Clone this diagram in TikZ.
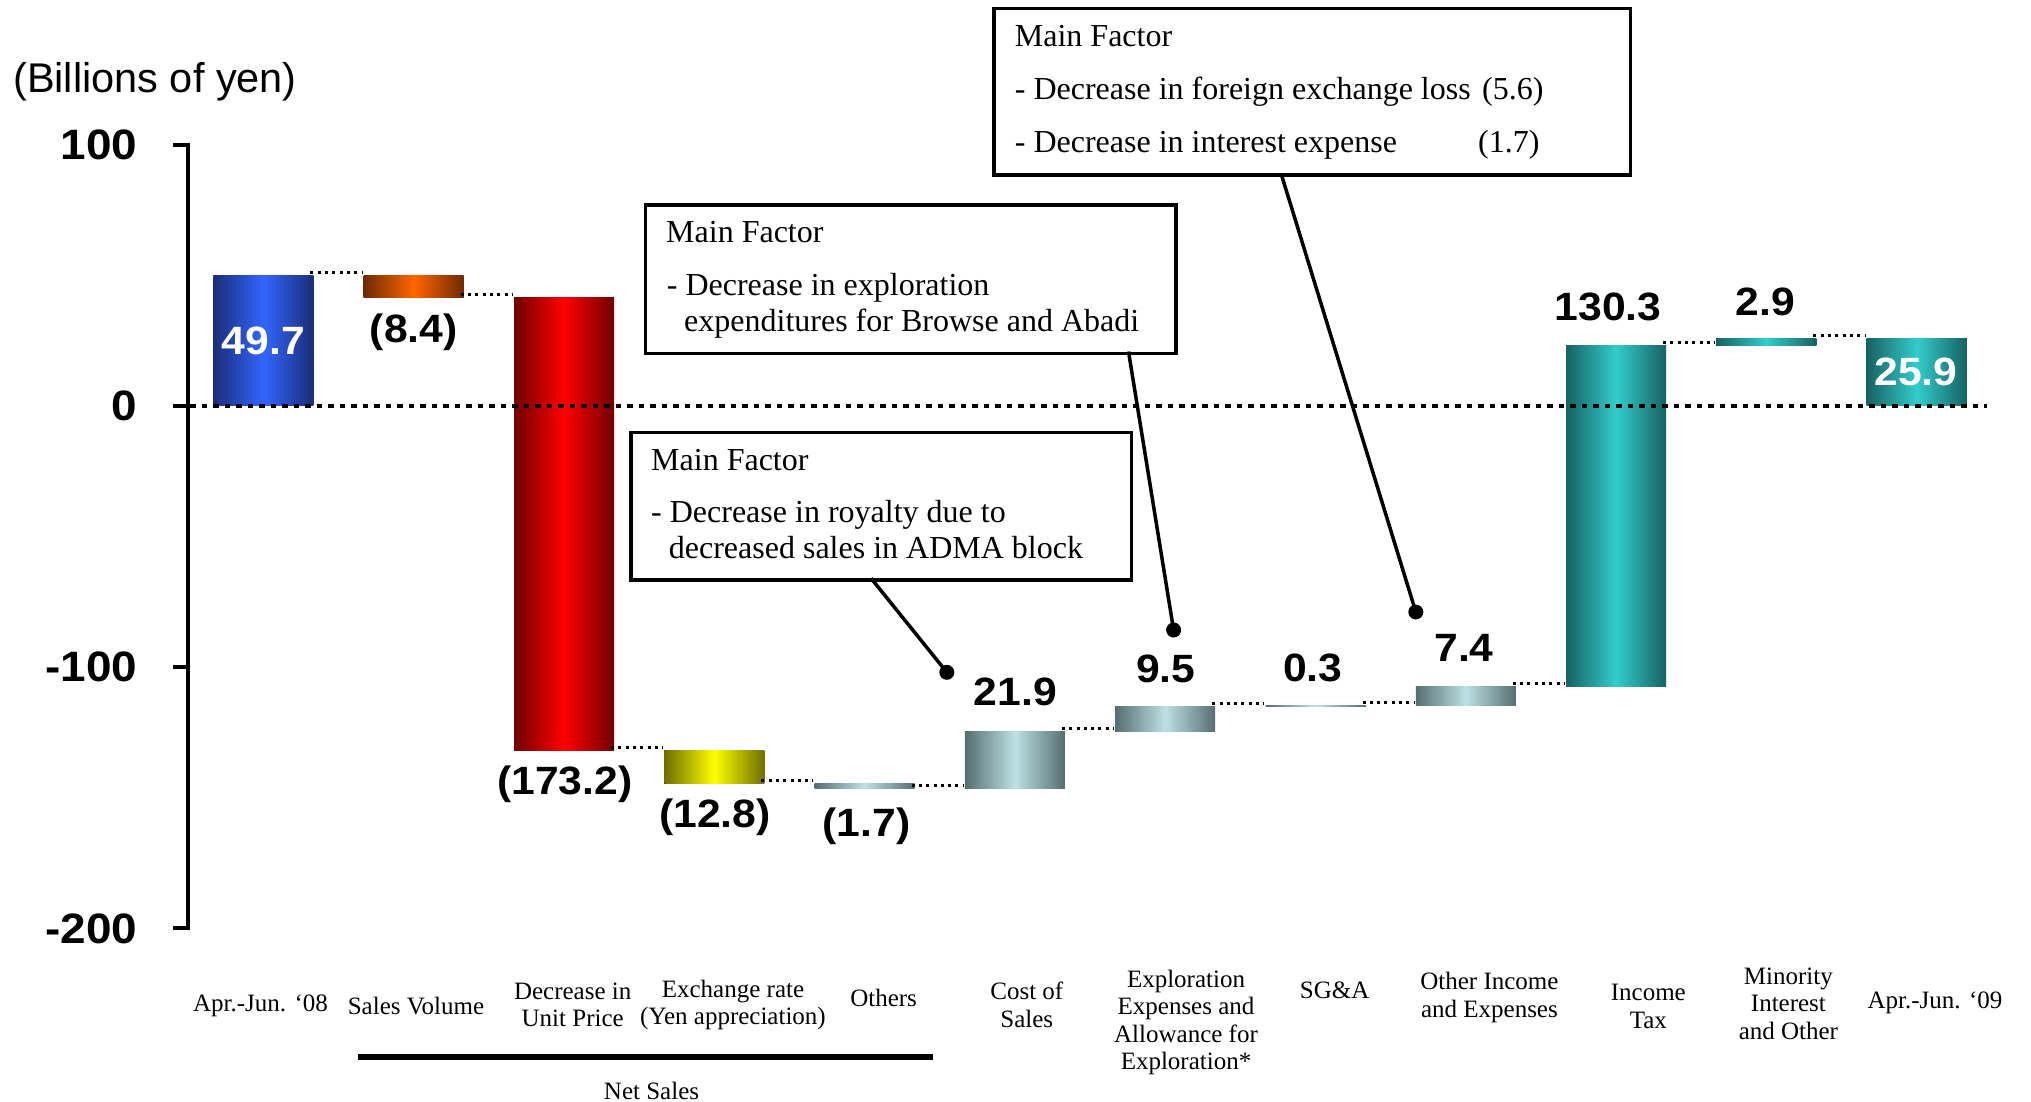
\documentclass[tikz,border=0pt]{standalone}
\usepackage{fontspec}
\setmainfont{Liberation Serif}
\newfontfamily\numfont[FakeStretch=1.08]{Liberation Sans}
\newfontfamily\plainsans{Liberation Sans}
\newfontfamily\catfont{Liberation Serif}
\definecolor{blueD}{HTML}{1A2E78}
\definecolor{blueM}{HTML}{3366FF}
\definecolor{orangeD}{HTML}{6E2A00}
\definecolor{orangeM}{HTML}{FF6600}
\definecolor{redD}{HTML}{700000}
\definecolor{redM}{HTML}{FF0000}
\definecolor{yellowD}{HTML}{6E6E00}
\definecolor{yellowM}{HTML}{FFFF00}
\definecolor{grayD}{HTML}{566E70}
\definecolor{grayM}{HTML}{BCE1E4}
\definecolor{tealD}{HTML}{176262}
\definecolor{tealM}{HTML}{33CCCC}
\newcommand\wfbar[5]{\fill[left color=#4, right color=#4, middle color=#5]
  ({213.4+150.3*#1},{405.8-2.613*(#2)}) rectangle ({313.4+150.3*#1},{405.8-2.613*(#3)});}
\begin{document}
\begin{tikzpicture}[x=1pt,y=-1pt,
  conn/.style={line width=3pt, dash pattern=on 3pt off 4.3pt},
  zeroline/.style={line width=3.5pt, dash pattern=on 5.5pt off 6pt},
  axisline/.style={line width=4pt},
  box/.style={draw, line width=3.5pt, fill=white, inner sep=0pt, anchor=north west},
  boxtxt/.style={inner sep=0pt, anchor=base west, font=\fontsize{32}{38}\selectfont},
  val/.style={inner sep=0pt, font=\numfont\bfseries\fontsize{39.5}{46}\selectfont},
  ylab/.style={inner sep=0pt, anchor=east, font=\numfont\bfseries\fontsize{42.5}{50}\selectfont},
  cat/.style={inner sep=0pt, align=center, font=\catfont\fontsize{25}{27.5}\selectfont},
  lead/.style={line width=3.5pt},
  dotn/.style={circle, fill=black, inner sep=0pt, minimum size=15pt}]
\useasboundingbox[fill=white] (0,0) rectangle (2031,1101);

% title
\node[inner sep=0pt, anchor=base west, font=\plainsans\fontsize{41.5}{50}\selectfont] (unit) at (13,92) {(Billions of yen)};

% axis
\draw[axisline] (187.5,{405.8-2.613*100}) -- (187.5,{405.8-2.613*(-200)});
\foreach \v/\t in {100/100,0/0,-100/-100,-200/-200}{
  \draw[axisline] (173,{405.8-2.613*(\v)}) -- (189.5,{405.8-2.613*(\v)});
  \node[ylab] (yl\t) at (137.5,{405.8-2.613*(\v)}) {\t};
}

% bars
\wfbar{0}{0}{49.7}{blueD}{blueM}
\wfbar{1}{49.7}{41.3}{orangeD}{orangeM}
\wfbar{2}{41.3}{-131.9}{redD}{redM}
\wfbar{3}{-131.9}{-144.7}{yellowD}{yellowM}
\wfbar{4}{-144.7}{-146.4}{grayD}{grayM}
\wfbar{5}{-146.4}{-124.5}{grayD}{grayM}
\wfbar{6}{-124.5}{-115}{grayD}{grayM}
\wfbar{7}{-115}{-114.7}{grayD}{grayM}
\wfbar{8}{-114.7}{-107.3}{grayD}{grayM}
\wfbar{9}{-107.3}{23}{tealD}{tealM}
\wfbar{10}{23}{25.9}{tealD}{tealM}
\wfbar{11}{0}{25.9}{tealD}{tealM}

% connectors between bars
\foreach \i/\L in {0/49.7,1/41.3,2/-131.9,3/-144.7,4/-146.4,5/-124.5,6/-115,7/-114.7,8/-107.3,9/23,10/25.9}{
  \draw[conn] ({310.4+150.3*\i},{402.8-2.613*(\L)}) -- ({361.7+150.3*\i},{402.8-2.613*(\L)});
}

% zero line
\draw[zeroline] (190,405.8) -- (1987,405.8);

% value labels
\node[val, text=white] (v0) at (263.4,341) {49.7};
\node[val] (v1) at (413.7,332) {(8.4)};
\node[val] (v2) at (564.7,784) {(173.2)};
\node[val] (v3) at (715,817.3) {(12.8)};
\node[val] (v4) at (866.6,826.4) {(1.7)};
\node[val] (v5) at (1015.5,691.7) {21.9};
\node[val] (v6) at (1165.8,668.4) {9.5};
\node[val] (v7) at (1312.8,668.4) {0.3};
\node[val] (v8) at (1464,648) {7.4};
\node[val] (v9) at (1608,307) {130.3};
\node[val] (v10) at (1765.4,301.7) {2.9};
\node[val, text=white] (v11) at (1915.8,371.7) {25.9};

% category labels
\node[cat] (c0) at (260.5,1006) {Apr.-Jun. ‘08};
\node[cat] (c1) at (416,1006) {Sales Volume};
\node[cat] (c2) at (572.7,1005) {Decrease in\\Unit Price};
\node[cat] (c3) at (733,1005) {Exchange rate\\(Yen appreciation)};
\node[cat] (c4) at (883.6,998) {Others};
\node[cat] (c5) at (1026.8,1005) {Cost of\\Sales};
\node[cat] (c6) at (1186,1022.5) {Exploration\\Expenses and\\Allowance for\\Exploration*};
\node[cat] (c7) at (1334.7,990) {SG\&A};
\node[cat] (c8) at (1489.4,997.7) {Other Income\\and Expenses};
\node[cat] (c9) at (1648.3,1006.3) {Income\\Tax};
\node[cat] (c10) at (1788.4,1003.8) {Minority\\Interest\\and Other};
\node[cat] (c11) at (1935,1003.3) {Apr.-Jun. ‘09};

% net sales bracket
\coordinate (nsl) at (357.6,1056.7);
\coordinate (nsr) at (933.3,1056.7);
\draw[line width=6pt] (nsl) -- (nsr);
\node[cat] (ns) at (651.5,1091) {Net Sales};

% callout boxes
\node[box, minimum width=636.1pt, minimum height=166.6pt] (b1) at (992.4,6.7) {};
\node[boxtxt] (b1t1) at (1014.7,46) {Main Factor};
\node[boxtxt] (b1t2) at (1014.7,99) {- Decrease in foreign exchange loss};
\node[boxtxt] (b1n2) at (1482,99) {(5.6)};
\node[boxtxt] (b1t3) at (1014.7,152) {- Decrease in interest expense};
\node[boxtxt] (b1n3) at (1478,152) {(1.7)};

\node[box, minimum width=530.2pt, minimum height=148.1pt] (b2) at (643.8,203.4) {};
\node[boxtxt] (b2t1) at (666,242.6) {Main Factor};
\node[boxtxt] (b2t2) at (666.7,295.5) {- Decrease in exploration};
\node[boxtxt] (b2t3) at (684,331) {expenditures for Browse and Abadi};

\node[box, minimum width=500.5pt, minimum height=147.4pt] (b3) at (629,430.8) {};
\node[boxtxt] (b3t1) at (651,470) {Main Factor};
\node[boxtxt] (b3t2) at (651,522.7) {- Decrease in royalty due to};
\node[boxtxt] (b3t3) at (668.7,558.3) {decreased sales in ADMA block};

% leader lines
\coordinate (s1) at (1281,173.3);
\coordinate (s2) at (1128.5,351.5);
\coordinate (s3) at (871,578.2);
\node[dotn] (d1) at (1415.8,612) {};
\node[dotn] (d2) at (1173.6,630) {};
\node[dotn] (d3) at (946.8,672.3) {};
\draw[lead] (s1) -- (d1.center);
\draw[lead] (s2) -- (d2.center);
\draw[lead] (s3) -- (d3.center);
\end{tikzpicture}
\end{document}
